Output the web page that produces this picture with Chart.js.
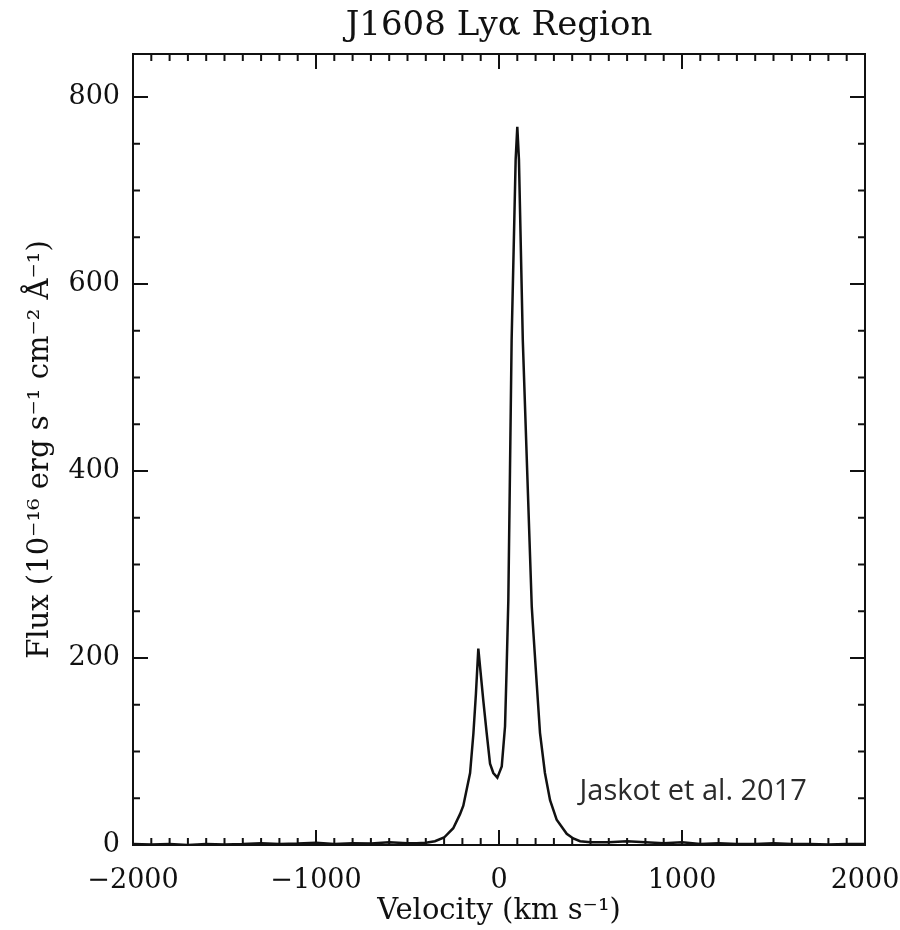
<!DOCTYPE html>
<html>
<head>
<meta charset="utf-8">
<script src="https://cdn.jsdelivr.net/npm/chart.js@4.4.1/dist/chart.umd.min.js"></script>
<style>
  html, body { margin: 0; padding: 0; background: #fff; }
  #wrap { width: 900px; height: 930px; position: relative; }
</style>
</head>
<body>
<div id="wrap"><canvas id="c"></canvas></div>
<script>
// ---- data ----
const velocity = [
  -2000, -1900, -1800, -1700, -1600, -1500, -1400, -1300, -1200, -1100,
  -1000, -900, -800, -700, -600, -500, -450, -400, -350, -300,
  -250, -213, -195, -158, -140, -126, -113, -86, -67, -49,
  -31, -9, 15, 33, 42, 51, 60, 69, 91, 100,
  109, 130, 154, 179, 188, 206, 224, 251, 279, 315,
  370, 406, 443, 500, 600, 700, 800, 900, 1000, 1100,
  1200, 1300, 1400, 1500, 1600, 1700, 1800, 1900, 2000
];
const flux = [
  1, 0.5, 1, 0, 1, 0.5, 1, 2, 1, 1.5,
  2.5, 1, 2, 1.5, 3, 2, 2, 2.5, 4, 8,
  18, 33, 42, 77, 119, 162, 210, 155, 119, 87,
  77, 72, 84, 127, 191, 262, 400, 540, 733, 768,
  733, 540, 400, 255, 227, 173, 120, 77, 48, 27,
  12, 7, 4, 3, 3, 4, 3, 2, 3, 1,
  2, 1, 1, 2, 1, 1, 0.5, 1, 1
];
const xTickLabels = [-2000, -1000, 0, 1000, 2000];
const yTickLabels = [0, 200, 400, 600, 800];
const xMinorStep = 100;
const yMinorStep = 50;
const xRange = [-2000, 2000];
const yRange = [0, 846];
const titleText = 'J1608 Ly\u03b1 Region';
const xTitle = 'Velocity (km s\u207b\u00b9)';
const yTitle = 'Flux (10\u207b\u00b9\u2076 erg s\u207b\u00b9 cm\u207b\u00b2 \u00c5\u207b\u00b9)';
const note = { text: 'Jaskot et al. 2017', x: 440, y: 48 };

const serif = "'DejaVu Serif', 'Liberation Serif', serif";
const ink = '#111';

const framePlugin = {
  id: 'frame',
  afterDatasetsDraw(chart) {
    const { ctx, chartArea: a, scales: { x, y } } = chart;
    ctx.save();
    ctx.strokeStyle = ink;
    ctx.lineWidth = 2;
    ctx.lineCap = 'butt';
    ctx.strokeRect(a.left, a.top, a.right - a.left, a.bottom - a.top);
    const seg = (x1, y1, x2, y2) => { ctx.beginPath(); ctx.moveTo(x1, y1); ctx.lineTo(x2, y2); ctx.stroke(); };
    for (let v = xRange[0]; v <= xRange[1]; v += xMinorStep) {
      const px = x.getPixelForValue(v);
      const len = xTickLabels.includes(v) ? 15 : 7;
      seg(px, a.bottom, px, a.bottom - len);
      seg(px, a.top, px, a.top + len);
    }
    for (let v = 0; v <= yRange[1]; v += yMinorStep) {
      const py = y.getPixelForValue(v);
      const len = yTickLabels.includes(v) ? 15 : 7;
      seg(a.left, py, a.left + len, py);
      seg(a.right, py, a.right - len, py);
    }
    // title
    ctx.fillStyle = ink;
    ctx.font = "34px " + serif;
    ctx.textAlign = 'center';
    ctx.textBaseline = 'middle';
    ctx.fillText(titleText, (a.left + a.right) / 2, 26);
    // annotation
    ctx.fillStyle = '#2b2b2b';
    ctx.font = "29px 'Open Sans', 'Noto Sans', sans-serif";
    ctx.textAlign = 'left';
    ctx.textBaseline = 'alphabetic';
    ctx.fillText(note.text, x.getPixelForValue(note.x), y.getPixelForValue(note.y));
    ctx.restore();
  }
};

const points = velocity.map((v, i) => ({ x: v, y: flux[i] }));

new Chart(document.getElementById('c'), {
  type: 'line',
  data: {
    datasets: [{
      data: points,
      borderColor: ink,
      borderWidth: 2.5,
      pointRadius: 0,
      tension: 0,
      fill: false
    }]
  },
  options: {
    responsive: true,
    maintainAspectRatio: false,
    animation: false,
    events: [],
    layout: { padding: { left: 0, right: 35, top: 54, bottom: 0 } },
    plugins: {
      legend: { display: false },
      tooltip: { enabled: false },
      title: { display: false }
    },
    scales: {
      x: {
        type: 'linear',
        min: xRange[0], max: xRange[1],
        afterFit: s => { s.height = 85; s.paddingLeft = 0; s.paddingRight = 0; },
        afterBuildTicks: s => { s.ticks = xTickLabels.map(v => ({ value: v })); },
        grid: { display: false, drawTicks: false },
        border: { display: false },
        ticks: {
          color: ink,
          padding: 20,
          maxRotation: 0,
          font: { family: serif, size: 27 },
          callback: v => (v < 0 ? '\u2212' + Math.abs(v) : String(v))
        },
        title: {
          display: true, text: xTitle, color: ink,
          font: { family: serif, size: 29, lineHeight: 1 },
          padding: { top: 0, bottom: 4 }
        }
      },
      y: {
        type: 'linear',
        min: yRange[0], max: yRange[1],
        afterFit: s => { s.width = 133; s.paddingTop = 0; s.paddingBottom = 0; },
        afterBuildTicks: s => { s.ticks = yTickLabels.map(v => ({ value: v })); },
        grid: { display: false, drawTicks: false },
        border: { display: false },
        ticks: {
          color: ink,
          padding: 13,
          font: { family: serif, size: 27 }
        },
        title: {
          display: true, text: yTitle, color: ink,
          font: { family: serif, size: 29, lineHeight: 1 },
          padding: { top: 26, bottom: 0 }
        }
      }
    }
  },
  plugins: [framePlugin]
});
</script>
</body>
</html>
